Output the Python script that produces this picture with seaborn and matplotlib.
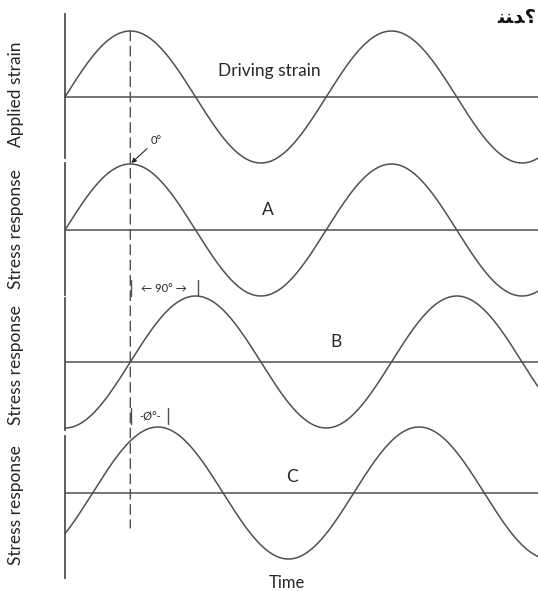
import numpy as np
import matplotlib.pyplot as plt
from matplotlib.patches import ConnectionPatch
import seaborn as sns

# values
panel_names = ['Driving strain', 'A', 'B', 'C']
y_labels = ['Applied strain', 'Stress response', 'Stress response', 'Stress response']
phase_lag = [0, 0, 90, 38]          # degrees behind the driving strain
amplitude = [1.0, 1.0, 1.0, 1.0]
time_max = 652                      # degrees of time shown

sns.set_style('white')
plt.rcParams['font.family'] = ['Lato', 'DejaVu Sans']

W, H = 538, 591
fig = plt.figure(figsize=(W / 100, H / 100), dpi=100)

# panel geometry in pixels (top, bottom, baseline)
tops = [14, 163, 298, 436]
bottoms = [158, 295, 430, 578]
bases = [97, 230, 362, 493]
amp_px = 66
line_col = '#505050'
text_col = '#262626'

t = np.linspace(0, time_max, 800)
axes = []
for i in range(4):
    top, bot, base = tops[i], bottoms[i], bases[i]
    ax = fig.add_axes([65 / W, 1 - bot / H, 473 / W, (bot - top) / H])
    ax.patch.set_alpha(0)
    y = amplitude[i] * np.sin(np.radians(t - phase_lag[i]))
    sns.lineplot(x=t, y=y, ax=ax, color=line_col, lw=1.1, clip_on=False)
    ax.axhline(0, color=line_col, lw=1.1)
    ax.set_xlim(0, time_max)
    ax.set_ylim(-(bot - base) / amp_px, (base - top) / amp_px)
    for s in ['top', 'right', 'bottom']:
        ax.spines[s].set_visible(False)
    ax.spines['left'].set_color(line_col)
    ax.spines['left'].set_linewidth(1.3)
    ax.set_xticks([])
    ax.set_yticks([])
    ax.set_ylabel(y_labels[i], fontsize=12.5, color=text_col)
    ax.yaxis.set_label_coords(-41 / 473, 1 - [80, 66, 67, 69][i] / (bot - top))
    axes.append(ax)

def px2data(i, px, py):
    return (px - 65) * 360 / 261, (bases[i] - py) / amp_px

# panel titles
label_px = [(269, 71), (268, 210), (336, 342), (292, 477)]
for i, name in enumerate(panel_names):
    x, y = px2data(i, *label_px[i])
    axes[i].text(x, y, name, ha='center', va='center', fontsize=12.5, color=text_col)

# dashed reference line at the strain peak
con = ConnectionPatch(xyA=(90, 1), coordsA=axes[0].transData,
                      xyB=(90, px2data(3, 130, 528)[1]), coordsB=axes[3].transData,
                      color=line_col, lw=1.0, linestyle=(0, (7, 4)))
fig.add_artist(con)

# 0 degree marker
axes[1].annotate('0°', xy=(90, 1), xytext=(20, 18), textcoords='offset pixels',
                 fontsize=8, color=text_col, ha='left', va='bottom',
                 arrowprops=dict(arrowstyle='-|>', color=text_col, lw=0.8,
                                 shrinkA=0, shrinkB=1, mutation_scale=7))

# 90 degree span
ax = axes[2]
yb = px2data(2, 0, 288)[1]
ax.text(px2data(2, 164, 0)[0], yb, '← 90° →', ha='center', va='center',
        fontsize=8, color=text_col)
for xp in [131, 198]:
    xd = px2data(2, xp, 0)[0]
    ax.plot([xd, xd], [px2data(2, 0, 280)[1], px2data(2, 0, 296)[1]],
            color=line_col, lw=1.0, clip_on=False)

# phase angle span
ax = axes[3]
yb = px2data(3, 0, 416)[1]
ax.text(px2data(3, 150, 0)[0], yb, '-Ø°-', ha='center', va='center',
        fontsize=8, color=text_col)
for xp in [131, 168]:
    xd = px2data(3, xp, 0)[0]
    ax.plot([xd, xd], [px2data(3, 0, 408)[1], px2data(3, 0, 424)[1]],
            color=line_col, lw=1.0, clip_on=False)

axes[3].set_xlabel('Time', fontsize=12, color=text_col, va='center')
axes[3].xaxis.set_label_coords((287 - 65) / 473, -5 / 142)

# cropped question text from the page
fig.text(536 / W, 1 - 17 / H, '\ufee8\ufee8\ufeaa\u061f', ha='right', va='center',
         fontsize=14, fontweight='bold', color='#111111', family=['DejaVu Sans'])

fig.savefig('out.png', dpi=100, facecolor='white')
